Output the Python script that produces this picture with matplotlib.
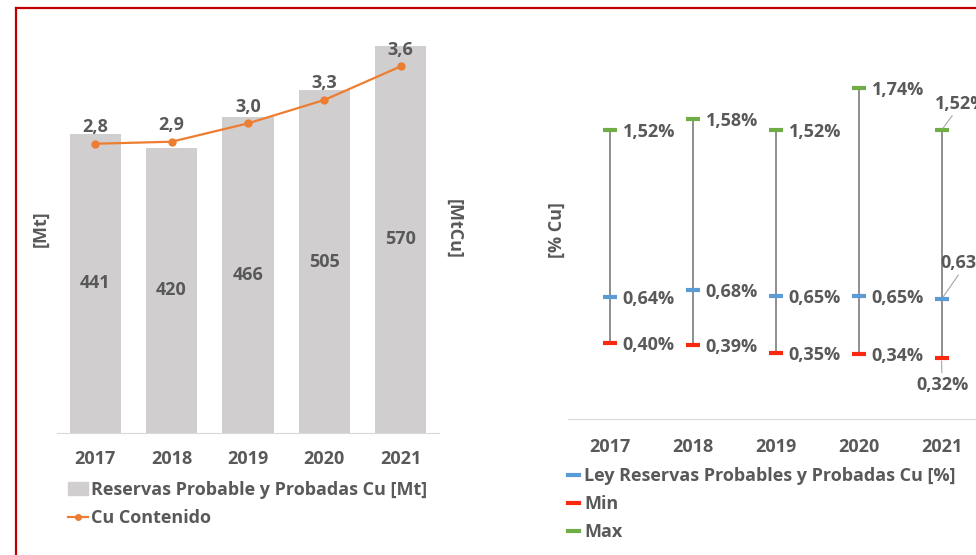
import matplotlib
matplotlib.use('Agg')
import matplotlib.pyplot as plt
from matplotlib.lines import Line2D
from matplotlib.patches import Patch

# Data
years = ['2017', '2018', '2019', '2020', '2021']
reservas = [441, 420, 466, 505, 570]          # [Mt]
cu_contenido = [2.84, 2.86, 3.04, 3.27, 3.60]  # [MtCu]

ley = [0.64, 0.68, 0.65, 0.65, 0.63]       # [% Cu]
ley_min = [0.40, 0.39, 0.35, 0.34, 0.32]
ley_max = [1.52, 1.58, 1.52, 1.74, 1.52]

plt.rcParams['font.family'] = ['Open Sans', 'DejaVu Sans']
plt.rcParams['font.weight'] = 'bold'

TXT = '#595959'
FS = 13
W, H = 976, 555


def fx(px):
    return px / W


def fy(py):
    return 1 - py / H


def comma(s):
    return s.replace('.', ',')


fig = plt.figure(figsize=(W / 100, H / 100), dpi=100)

# red frame (top and left only)
fig.add_artist(Line2D([fx(16), fx(16)], [fy(8), 0], transform=fig.transFigure,
                      color='#C00000', lw=1.6))
fig.add_artist(Line2D([fx(16), 1], [fy(8), fy(8)], transform=fig.transFigure,
                      color='#C00000', lw=1.6))

# ---------------- left chart: bars + line ----------------
ax = fig.add_axes([fx(57), fy(433), fx(439) - fx(57), fy(25.6) - fy(433)])
x = range(len(years))
ax.bar(x, reservas, width=0.67, color='#D0CECE', zorder=2)
ax.set_xlim(-0.5, 4.5)
ax.set_ylim(0, 600)
for i, v in enumerate(reservas):
    ax.text(i, v / 2, str(v), ha='center', va='center', fontsize=FS,
            fontweight='bold', color=TXT)

ax2 = ax.twinx()
ax2.plot(x, cu_contenido, color='#ED7D31', lw=1.6, marker='o', markersize=5, zorder=3)
ax2.set_ylim(0, 4)
for i, v in enumerate(cu_contenido):
    ax2.annotate(comma(f'{v:.1f}'), (i, v), xytext=(0, 12), textcoords='offset points',
                 ha='center', va='center', fontsize=FS, fontweight='bold', color=TXT)

for a in (ax, ax2):
    for s in a.spines.values():
        s.set_visible(False)
    a.set_yticks([])
ax.spines['bottom'].set_visible(True)
ax.spines['bottom'].set_color('#D9D9D9')
ax.set_xticks(list(x))
ax.set_xticklabels(years, fontweight='bold')
ax.tick_params(axis='x', length=0, pad=12, labelsize=FS, labelcolor=TXT)

fig.text(fx(41), fy(229), '[Mt]', rotation=90, ha='center', va='center',
         fontsize=FS, fontweight='bold', color=TXT)
fig.text(fx(454), fy(229), '[MtCu]', rotation=270, ha='center', va='center',
         fontsize=FS, fontweight='bold', color=TXT)

fig.legend(handles=[Patch(color='#D0CECE', label='Reservas Probable y Probadas Cu [Mt]'),
                    Line2D([], [], color='#ED7D31', lw=1.6, marker='o', markersize=4,
                           label='Cu Contenido')],
           loc='upper left', bbox_to_anchor=(fx(68), fy(481)), frameon=False,
           prop={'size': FS, 'weight': 'bold'}, labelcolor=TXT,
           handlelength=1.1, handletextpad=0.15,
           labelspacing=0.56, borderpad=0, borderaxespad=0)

# ---------------- right chart: high-low ----------------
bx = fig.add_axes([fx(568), fy(419), fx(983) - fx(568), fy(39) - fy(419)])
bx.set_xlim(-0.5, 4.5)
bx.set_ylim(0, 2)
for i in x:
    bx.plot([i, i], [ley_min[i], ley_max[i]], color='#707070', lw=1.1, zorder=1)
bx.plot(x, ley_max, ls='none', marker='_', markersize=9.5, mew=3, color='#70AD47', zorder=3)
bx.plot(x, ley, ls='none', marker='_', markersize=9.5, mew=3, color='#5B9BD5', zorder=3)
bx.plot(x, ley_min, ls='none', marker='_', markersize=9.5, mew=3, color='#F8290F', zorder=3)

for i in range(4):
    for vals in (ley_max, ley, ley_min):
        bx.annotate(comma(f'{vals[i]:.2f}%'), (i, vals[i]), xytext=(9.4, -1.5),
                    textcoords='offset points', ha='left', va='center',
                    fontsize=FS, fontweight='bold', color=TXT)

lead = dict(arrowstyle='-', color='#A6A6A6', lw=0.8, shrinkA=0, shrinkB=2)
bx.annotate(comma(f'{ley_max[4]:.2f}%'), (4, ley_max[4]), xytext=(14, 19),
            textcoords='offset points', ha='center', va='center', fontsize=FS,
            fontweight='bold', color=TXT, arrowprops=lead, annotation_clip=False)
bx.annotate(comma(f'{ley[4]:.2f}%'), (4, ley[4]), xytext=(18, 26),
            textcoords='offset points', ha='center', va='center', fontsize=FS,
            fontweight='bold', color=TXT, arrowprops=lead, annotation_clip=False)
bx.annotate(comma(f'{ley_min[4]:.2f}%'), (4, ley_min[4]), xytext=(0.5, -19),
            textcoords='offset points', ha='center', va='center', fontsize=FS,
            fontweight='bold', color=TXT, arrowprops=lead, annotation_clip=False)

for s in bx.spines.values():
    s.set_visible(False)
bx.spines['bottom'].set_visible(True)
bx.spines['bottom'].set_color('#D9D9D9')
bx.set_yticks([])
bx.set_xticks(list(x))
bx.set_xticklabels(years, fontweight='bold')
bx.tick_params(axis='x', length=0, pad=13.5, labelsize=FS, labelcolor=TXT)

fig.text(fx(557), fy(230), '[% Cu]', rotation=90, ha='center', va='center',
         fontsize=FS, fontweight='bold', color=TXT)

fig.legend(handles=[Line2D([], [], color='#5B9BD5', lw=3,
                           label='Ley Reservas Probables y Probadas Cu [%]'),
                    Line2D([], [], color='#F8290F', lw=3, label='Min'),
                    Line2D([], [], color='#70AD47', lw=3, label='Max')],
           loc='upper left', bbox_to_anchor=(fx(568), fy(467)), frameon=False,
           prop={'size': FS, 'weight': 'bold'}, labelcolor=TXT,
           handlelength=0.6, handletextpad=0.3,
           labelspacing=0.56, borderpad=0, borderaxespad=0)

fig.savefig('out.png', dpi=100)
